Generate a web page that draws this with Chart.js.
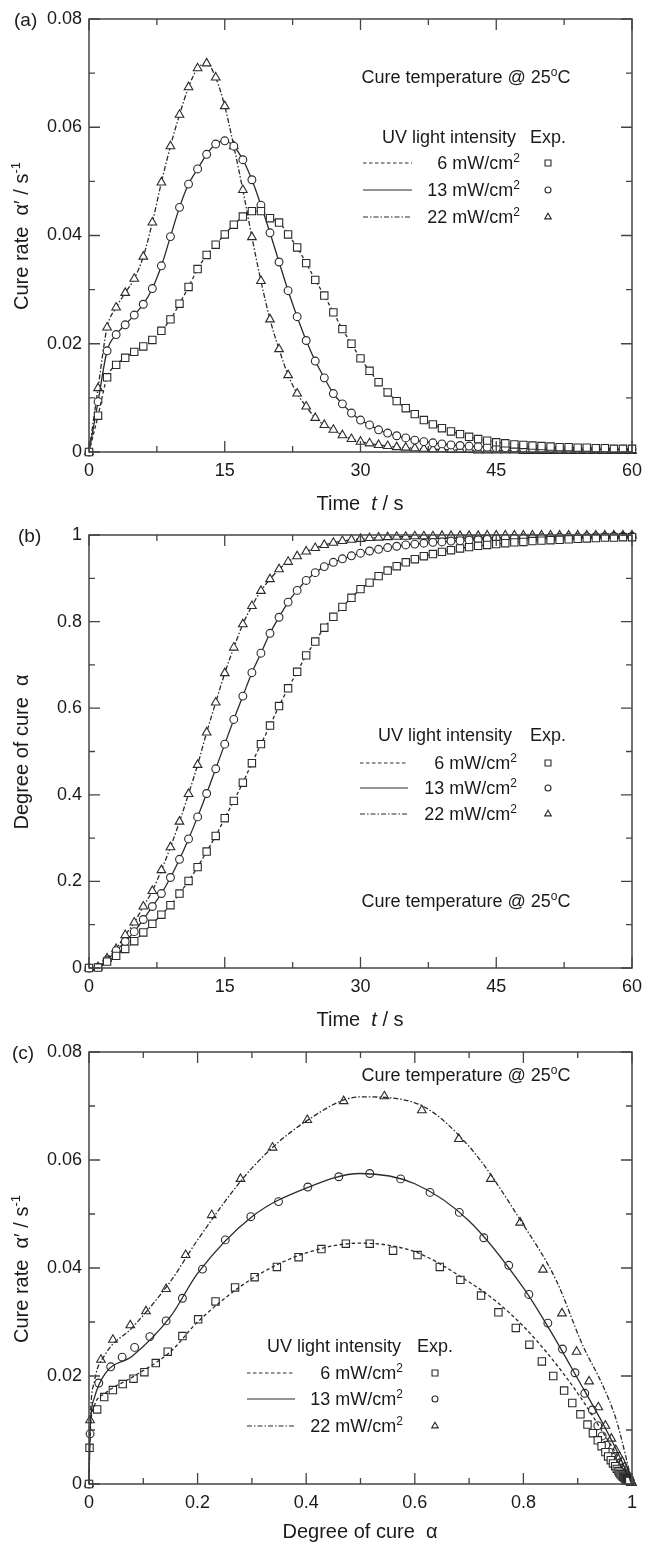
<!DOCTYPE html>
<html lang="en">
  <head>
    <meta charset="utf-8" />
    <title>UV cure kinetics</title>
    <style>
      * {
        margin: 0;
        padding: 0;
      }
      body {
        background: #fff;
        width: 645px;
        height: 1549px;
        position: relative;
        overflow: hidden;
      }
      .panel {
        position: absolute;
        left: 0;
        width: 645px;
      }
      canvas {
        display: block;
      }
    </style>
  </head>
  <body>
    <div class="panel" style="top: 0"><canvas id="chartA" width="645" height="516"></canvas></div>
    <div class="panel" style="top: 516px"><canvas id="chartB" width="645" height="516"></canvas></div>
    <div class="panel" style="top: 1033px"><canvas id="chartC" width="645" height="516"></canvas></div>

    <script src="https://cdn.jsdelivr.net/npm/chart.js"></script>
    <script>
      // ---- data block ----
      const intensities = ["6", "13", "22"]; // mW/cm2

      const time = [
        0, 1, 2, 3, 4, 5, 6, 7, 8, 9, 10, 11, 12, 13, 14, 15, 16, 17, 18, 19,
        20, 21, 22, 23, 24, 25, 26, 27, 28, 29, 30, 31, 32, 33, 34, 35, 36, 37, 38, 39,
        40, 41, 42, 43, 44, 45, 46, 47, 48, 49, 50, 51, 52, 53, 54, 55, 56, 57, 58, 59, 60,
      ];

      // cure rate (1/s) vs time, experiments
      const rate6 = [
        0, 0.0067, 0.0138, 0.0161, 0.0174, 0.0185, 0.0195, 0.0207, 0.0224, 0.0245,
        0.0274, 0.0305, 0.0338, 0.0364, 0.0383, 0.0402, 0.042, 0.0435, 0.0445, 0.0445,
        0.0432, 0.0424, 0.0402, 0.0378, 0.0349, 0.0318, 0.0289, 0.0258, 0.0227, 0.02,
        0.0173, 0.015, 0.0129, 0.011, 0.0094, 0.0081, 0.007, 0.0059, 0.0051, 0.0044,
        0.0038, 0.0033, 0.0028, 0.0024, 0.0021, 0.0018, 0.0016, 0.0014, 0.0013, 0.0012,
        0.0011, 0.001, 0.0009, 0.0009, 0.0008, 0.0008, 0.0007, 0.0007, 0.0006, 0.0006, 0.0006,
      ];
      const rate13 = [
        0, 0.0093, 0.0187, 0.0217, 0.0235, 0.0253, 0.0273, 0.0302, 0.0344, 0.0398,
        0.0452, 0.0495, 0.0523, 0.055, 0.0569, 0.0575, 0.0565, 0.054, 0.0503, 0.0456,
        0.0405, 0.0351, 0.0298, 0.025, 0.0206, 0.0168, 0.0137, 0.0108, 0.0089, 0.0072,
        0.0059, 0.005, 0.0041, 0.0035, 0.003, 0.0026, 0.0022, 0.0019, 0.0017, 0.0015,
        0.0013, 0.0012, 0.0011, 0.001, 0.0009, 0.0008, 0.0008, 0.0007, 0.0007, 0.0006,
        0.0006, 0.0006, 0.0005, 0.0005, 0.0005, 0.0005, 0.0005, 0.0005, 0.0005, 0.0005, 0.0005,
      ];
      const rate22 = [
        0, 0.0118, 0.023, 0.0267, 0.0294, 0.032, 0.0361, 0.0424, 0.0498, 0.0565,
        0.0623, 0.0674, 0.0709, 0.0718, 0.0692, 0.0639, 0.0565, 0.0484, 0.0397, 0.0316,
        0.0245, 0.019, 0.0142, 0.0108, 0.0084, 0.0063, 0.005, 0.0041, 0.0031, 0.0024,
        0.0019, 0.0016, 0.0013, 0.0011, 0.0009, 0.0008, 0.0007, 0.0006, 0.0005, 0.0005,
        0.0004, 0.0004, 0.0004, 0.0003, 0.0003, 0.0003, 0.0003, 0.0003, 0.0002, 0.0002,
        0.0002, 0.0002, 0.0002, 0.0002, 0.0002, 0.0002, 0.0002, 0.0002, 0.0002, 0.0002, 0.0002,
      ];

      // degree of cure vs time, experiments
      const alpha6 = [
        0, 0.001, 0.015, 0.028, 0.044, 0.062, 0.082, 0.102, 0.123, 0.145,
        0.172, 0.201, 0.233, 0.269, 0.305, 0.346, 0.386, 0.428, 0.473, 0.517,
        0.56, 0.605, 0.646, 0.684, 0.722, 0.754, 0.786, 0.811, 0.834, 0.855,
        0.875, 0.89, 0.905, 0.918, 0.928, 0.937, 0.944, 0.951, 0.956, 0.961,
        0.965, 0.969, 0.972, 0.975, 0.977, 0.979, 0.981, 0.983, 0.984, 0.986,
        0.987, 0.988, 0.989, 0.99, 0.991, 0.992, 0.993, 0.994, 0.994, 0.995, 0.995,
      ];
      const alpha13 = [
        0, 0.002, 0.018, 0.04, 0.061, 0.084, 0.112, 0.142, 0.172, 0.209,
        0.251, 0.298, 0.349, 0.403, 0.46, 0.517, 0.574, 0.628, 0.682, 0.727,
        0.773, 0.81, 0.845, 0.872, 0.895, 0.913, 0.927, 0.937, 0.945, 0.952,
        0.958, 0.963, 0.967, 0.971, 0.974, 0.977, 0.979, 0.981, 0.983, 0.984,
        0.986, 0.987, 0.988, 0.989, 0.99, 0.991, 0.992, 0.992, 0.993, 0.993,
        0.994, 0.994, 0.995, 0.995, 0.995, 0.996, 0.996, 0.996, 0.997, 0.997, 0.997,
      ];
      const alpha22 = [
        0, 0.002, 0.022, 0.044, 0.076, 0.105, 0.142, 0.178, 0.226, 0.279,
        0.338, 0.402, 0.469, 0.544, 0.613, 0.681, 0.74, 0.794, 0.836, 0.871,
        0.898, 0.921, 0.938, 0.951, 0.962, 0.97, 0.977, 0.982, 0.986, 0.989,
        0.991, 0.993, 0.994, 0.995, 0.996, 0.996, 0.997, 0.997, 0.997, 0.998,
        0.998, 0.998, 0.998, 0.998, 0.999, 0.999, 0.999, 0.999, 0.999, 0.999,
        0.999, 0.999, 0.999, 0.999, 0.999, 0.999, 0.999, 0.999, 0.999, 0.999, 0.999,
      ];

      // model curves for panel (c): rate vs degree of cure
      const fitAlpha6 = [0, 0.002, 0.01, 0.03, 0.08, 0.15, 0.2, 0.3, 0.4, 0.5, 0.6, 0.7, 0.75, 0.8, 0.85, 0.9, 0.95, 0.98, 1];
      const fitRate6 = [0, 0.009, 0.0145, 0.0168, 0.0198, 0.0245, 0.03, 0.038, 0.0428, 0.0446, 0.043, 0.0374, 0.0338, 0.0292, 0.0235, 0.0168, 0.009, 0.004, 0];
      const fitAlpha13 = [0, 0.002, 0.01, 0.03, 0.08, 0.15, 0.2, 0.3, 0.4, 0.5, 0.6, 0.7, 0.8, 0.85, 0.9, 0.95, 0.98, 1];
      const fitRate13 = [0, 0.01, 0.016, 0.0205, 0.0237, 0.031, 0.039, 0.0495, 0.0548, 0.0575, 0.0556, 0.0487, 0.0363, 0.0283, 0.0195, 0.0105, 0.0045, 0];
      const fitAlpha22 = [0, 0.002, 0.01, 0.03, 0.08, 0.15, 0.2, 0.3, 0.4, 0.5, 0.6, 0.7, 0.8, 0.86, 0.91, 0.945, 0.97, 0.99, 1];
      const fitRate22 = [0, 0.011, 0.019, 0.024, 0.029, 0.0375, 0.0452, 0.0585, 0.0672, 0.0717, 0.0706, 0.0625, 0.048, 0.0378, 0.0255, 0.0185, 0.0122, 0.0045, 0];

      // ---- styles ----
      const FONT = "'Liberation Sans', Arial, sans-serif";
      const INK = "#2a2a2a";
      const TEXT = "#1a1a1a";
      Chart.defaults.font.family = FONT;
      Chart.defaults.font.size = 18;
      Chart.defaults.color = TEXT;

      const f = (size, style = "") => `${style} ${size}px ${FONT}`;

      const seriesKeys = ["i6", "i13", "i22"];
      const styles = {
        i6: { dash: [3.5, 2.5], point: "rect", radius: 5.2, legendR: 4.2 },
        i13: { dash: [], point: "circle", radius: 3.9, legendR: 3 },
        i22: { dash: [5, 2, 1.5, 2], point: "triangle", radius: 5, legendR: 3.8 },
      };

      const measured = (xs, ys, key, withLine) => ({
        data: xs.map((x, i) => ({ x, y: ys[i] })),
        showLine: withLine,
        borderColor: INK,
        borderWidth: 1.3,
        borderDash: styles[key].dash,
        cubicInterpolationMode: "monotone",
        pointStyle: styles[key].point,
        pointRadius: styles[key].radius,
        pointBorderWidth: 1.1,
        pointBorderColor: INK,
        pointBackgroundColor: "#fff",
        clip: false,
      });

      const fitted = (xs, ys, key) => ({
        data: xs.map((x, i) => ({ x, y: ys[i] })),
        showLine: true,
        borderColor: INK,
        borderWidth: 1.3,
        borderDash: styles[key].dash,
        cubicInterpolationMode: "monotone",
        pointRadius: 0,
        clip: false,
      });

      // ---- plugins ----
      // box around the plot with inward major/minor ticks on all sides
      const frameTicks = {
        id: "frameTicks",
        afterDatasetsDraw(chart) {
          const { ctx, chartArea: a, scales: { x, y } } = chart;
          const marks = (scale) => {
            const v = scale.ticks.map((t) => t.value);
            const out = [];
            v.forEach((val, i) => {
              out.push([val, 11]);
              if (i < v.length - 1) out.push([(val + v[i + 1]) / 2, 6]);
            });
            return out;
          };
          ctx.save();
          ctx.strokeStyle = "#444";
          ctx.lineWidth = 1.3;
          ctx.beginPath();
          marks(x).forEach(([v, len]) => {
            const px = x.getPixelForValue(v);
            ctx.moveTo(px, a.bottom);
            ctx.lineTo(px, a.bottom - len);
            ctx.moveTo(px, a.top);
            ctx.lineTo(px, a.top + len);
          });
          marks(y).forEach(([v, len]) => {
            const py = y.getPixelForValue(v);
            ctx.moveTo(a.left, py);
            ctx.lineTo(a.left + len, py);
            ctx.moveTo(a.right, py);
            ctx.lineTo(a.right - len, py);
          });
          ctx.stroke();
          ctx.lineWidth = 1.5;
          ctx.strokeRect(a.left, a.top, a.right - a.left, a.bottom - a.top);
          ctx.restore();
        },
      };

      function drawRuns(ctx, runs, align) {
        let w = 0;
        runs.forEach((r) => {
          ctx.font = r.font;
          w += ctx.measureText(r.t).width;
        });
        let cx = align === "center" ? -w / 2 : align === "right" ? -w : 0;
        runs.forEach((r) => {
          ctx.font = r.font;
          ctx.fillText(r.t, cx, r.dy || 0);
          cx += ctx.measureText(r.t).width;
        });
      }

      function drawMark(ctx, style, x, y, r) {
        ctx.beginPath();
        if (style === "rect") {
          const s = r * Math.SQRT1_2;
          ctx.rect(x - s, y - s, 2 * s, 2 * s);
        } else if (style === "circle") {
          ctx.arc(x, y, r, 0, Math.PI * 2);
        } else {
          for (let k = 0; k < 3; k++) {
            const ang = (k * 2 * Math.PI) / 3;
            const px = x + Math.sin(ang) * r;
            const py = y - Math.cos(ang) * r;
            k === 0 ? ctx.moveTo(px, py) : ctx.lineTo(px, py);
          }
          ctx.closePath();
        }
        ctx.fill();
        ctx.stroke();
      }

      // titles, annotation and hand-built legend
      const plotNotes = {
        id: "plotNotes",
        afterDraw(chart, args, opts) {
          const ctx = chart.ctx;
          ctx.save();
          ctx.textBaseline = "alphabetic";
          (opts.items || []).forEach((it) => {
            ctx.save();
            if (it.kind === "text") {
              ctx.fillStyle = TEXT;
              ctx.translate(it.x, it.y);
              if (it.rotate) ctx.rotate(it.rotate);
              drawRuns(ctx, it.runs, it.align || "left");
            } else if (it.kind === "line") {
              ctx.strokeStyle = INK;
              ctx.lineWidth = 1.2;
              ctx.setLineDash(it.dash);
              ctx.beginPath();
              ctx.moveTo(it.x1, it.y);
              ctx.lineTo(it.x2, it.y);
              ctx.stroke();
            } else if (it.kind === "mark") {
              ctx.strokeStyle = INK;
              ctx.fillStyle = "#fff";
              ctx.lineWidth = 1.1;
              drawMark(ctx, it.style, it.x, it.y, it.r);
            }
            ctx.restore();
          });
          ctx.restore();
        },
      };

      // ---- helpers for the three panels ----
      const fmt = (dec) => (v) => {
        if (Math.abs(v) < 1e-9) return "0";
        if (Math.abs(v - Math.round(v)) < 1e-9) return String(Math.round(v));
        return v.toFixed(dec);
      };

      function scales(xMax, xStep, xDec, yMax, yStep, yDec, xHeight) {
        return {
          x: {
            type: "linear",
            min: 0,
            max: xMax,
            grid: { display: false, drawTicks: false, tickLength: 0 },
            border: { display: false },
            // tall line box pushes the labels down without widening the side padding
            ticks: { stepSize: xStep, padding: 1, font: { lineHeight: 2.05 }, autoSkip: false, maxRotation: 0, callback: fmt(xDec) },
            afterFit: (s) => {
              s.height = xHeight;
            },
          },
          y: {
            type: "linear",
            min: 0,
            max: yMax,
            grid: { display: false, drawTicks: false, tickLength: 0 },
            border: { display: false },
            ticks: { stepSize: yStep, padding: 7, autoSkip: false, callback: fmt(yDec) },
            afterFit: (s) => {
              s.width = 89;
            },
          },
        };
      }

      function legendItems(o) {
        const items = [
          { kind: "text", x: o.headX, y: o.headY, runs: [{ t: "UV light intensity", font: f(18) }] },
          { kind: "text", x: o.expX, y: o.headY, runs: [{ t: "Exp.", font: f(18) }] },
        ];
        seriesKeys.forEach((k, i) => {
          const y = o.rowY[i];
          items.push({ kind: "line", x1: o.lineX1, x2: o.lineX2, y: y - 6, dash: styles[k].dash });
          items.push({
            kind: "text",
            x: o.textRight,
            y,
            align: "right",
            runs: [
              { t: intensities[i] + " mW/cm", font: f(18) },
              { t: "2", font: f(12), dy: -7 },
            ],
          });
          items.push({ kind: "mark", x: o.markX, y: y - 6, style: styles[k].point, r: styles[k].legendR });
        });
        return items;
      }

      const tempNote = (y) => ({
        kind: "text",
        x: 466,
        y,
        align: "center",
        runs: [
          { t: "Cure temperature @ 25", font: f(18) },
          { t: "o", font: f(12), dy: -7 },
          { t: "C", font: f(18) },
        ],
      });

      const rateTitle = {
        kind: "text",
        x: 28,
        y: 236,
        rotate: -Math.PI / 2,
        align: "center",
        runs: [
          { t: "Cure rate  \u03b1\u2032 / s", font: f(20) },
          { t: "-1", font: f(13), dy: -8 },
        ],
      };
      const timeTitle = {
        kind: "text",
        x: 360,
        y: 510,
        align: "center",
        runs: [
          { t: "Time  ", font: f(20) },
          { t: "t", font: f(20, "italic") },
          { t: " / s", font: f(20) },
        ],
      };
      const tag = (label, x) => ({ kind: "text", x, y: 26, runs: [{ t: label, font: f(19) }] });

      const baseOptions = (sc, items) => ({
        responsive: false,
        animation: false,
        layout: { padding: { top: 19, right: 13, left: 0, bottom: 0 } },
        scales: sc,
        plugins: {
          legend: { display: false },
          tooltip: { enabled: false },
          plotNotes: { items },
        },
      });

      // ---- (a) cure rate vs time ----
      new Chart(document.getElementById("chartA"), {
        type: "scatter",
        data: {
          datasets: [
            measured(time, rate6, "i6", true),
            measured(time, rate13, "i13", true),
            measured(time, rate22, "i22", true),
          ],
        },
        options: baseOptions(scales(60, 15, 0, 0.08, 0.02, 2, 64), [
          tag("(a)", 14),
          rateTitle,
          timeTitle,
          tempNote(83),
          ...legendItems({ headX: 382, expX: 530, headY: 143, rowY: [169, 196, 223], lineX1: 363, lineX2: 412, textRight: 520, markX: 548 }),
        ]),
        plugins: [frameTicks, plotNotes],
      });

      // ---- (b) degree of cure vs time ----
      new Chart(document.getElementById("chartB"), {
        type: "scatter",
        data: {
          datasets: [
            measured(time, alpha6, "i6", true),
            measured(time, alpha13, "i13", true),
            measured(time, alpha22, "i22", true),
          ],
        },
        options: baseOptions(scales(60, 15, 0, 1, 0.2, 1, 64), [
          tag("(b)", 18),
          {
            kind: "text",
            x: 28,
            y: 236,
            rotate: -Math.PI / 2,
            align: "center",
            runs: [{ t: "Degree of cure  \u03b1", font: f(20) }],
          },
          timeTitle,
          tempNote(391),
          ...legendItems({ headX: 378, expX: 530, headY: 225, rowY: [253, 278, 304], lineX1: 360, lineX2: 408, textRight: 517, markX: 548 }),
        ]),
        plugins: [frameTicks, plotNotes],
      });

      // ---- (c) cure rate vs degree of cure ----
      new Chart(document.getElementById("chartC"), {
        type: "scatter",
        data: {
          datasets: [
            fitted(fitAlpha6, fitRate6, "i6"),
            fitted(fitAlpha13, fitRate13, "i13"),
            fitted(fitAlpha22, fitRate22, "i22"),
            measured(alpha6, rate6, "i6", false),
            measured(alpha13, rate13, "i13", false),
            measured(alpha22, rate22, "i22", false),
          ],
        },
        options: baseOptions(scales(1, 0.2, 1, 0.08, 0.02, 2, 65), [
          tag("(c)", 12),
          rateTitle,
          {
            kind: "text",
            x: 360,
            y: 505,
            align: "center",
            runs: [{ t: "Degree of cure  \u03b1", font: f(20) }],
          },
          tempNote(48),
          ...legendItems({ headX: 267, expX: 417, headY: 319, rowY: [346, 372, 399], lineX1: 247, lineX2: 295, textRight: 403, markX: 435 }),
        ]),
        plugins: [frameTicks, plotNotes],
      });
    </script>
  </body>
</html>
